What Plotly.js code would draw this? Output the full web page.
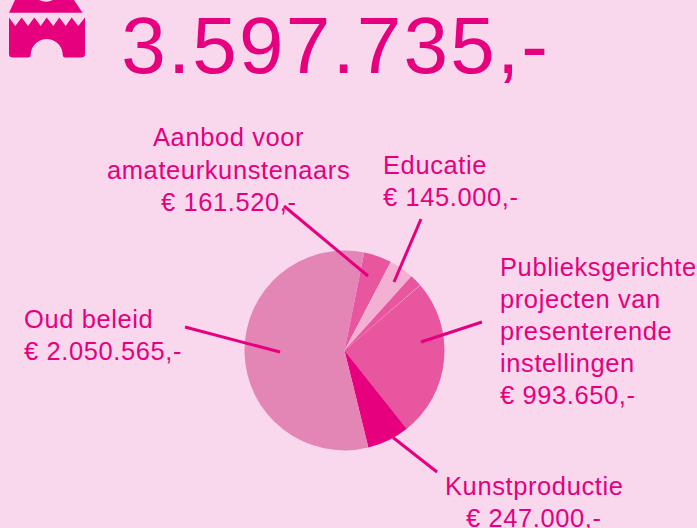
<!DOCTYPE html>
<html><head><meta charset="utf-8">
<script src="https://cdn.plot.ly/plotly-3.0.1.min.js"></script>
<style>html,body{margin:0;padding:0;background:#F9D8ED}#c{width:697px;height:528px}
.annotation-text{letter-spacing:0.6px}
.annotation:last-of-type .annotation-text{letter-spacing:2.2px}</style>
</head><body><div id="c"></div>
<script>
const sliceNames = ['Aanbod voor amateurkunstenaars','Educatie','Publieksgerichte projecten (a)','scheiding','Publieksgerichte projecten (b)','Kunstproductie','Oud beleid'];
const sliceValues = [161520,145000,70000,2500,921150,247000,2050565];
const sliceColors = ['#E8569F','#F3B0D2','#E8569F','#F3A0CC','#E8569F','#E6007E','#E385B5'];
const total = '3.597.735,-';
const W=697,H=528, M='#E6007E', BG='#F9D8ED';
const px=x=>x/W, py=y=>1-y/H;
const P=(x,y)=>px(x).toFixed(5)+','+py(y).toFixed(5);
const labels=[
 {t:['Aanbod voor','amateurkunstenaars','€ 161.520,-'],x:228.5,y:122.5,a:'center'},
 {t:['Educatie','€ 145.000,-'],x:382,y:150,a:'left'},
 {t:['Publieksgerichte','projecten van','presenterende','instellingen','€ 993.650,-'],x:499,y:251.5,a:'left'},
 {t:['Oud beleid','€ 2.050.565,-'],x:23,y:304,a:'left'},
 {t:['Kunstproductie','€ 247.000,-'],x:534,y:470.5,a:'center'}
];
const lineGap=32;
const leaders=[[284,206,368,276],[421,219,394,282],[482,322,421,342],[185,327,280,352],[393,437.5,437,472]];
const F='"Liberation Sans",Arial,sans-serif';
const ann=[];
labels.forEach(l=>l.t.forEach((s,i)=>ann.push({xref:'paper',yref:'paper',x:px(l.x),y:py(l.y+i*lineGap),xanchor:l.a,yanchor:'top',align:l.a,text:s,showarrow:false,borderpad:0,font:{family:F,size:25.5,color:M}})));
ann.push({xref:'paper',yref:'paper',x:px(129),y:py(0),xanchor:'left',yanchor:'top',text:total,showarrow:false,borderpad:0,font:{family:F,size:80,color:M}});
const shapes=leaders.map(s=>({type:'line',xref:'paper',yref:'paper',x0:px(s[0]),y0:py(s[1]),x1:px(s[2]),y1:py(s[3]),line:{color:M,width:3},layer:'above'}));
// castle icon
const teethTop=[[9,17.5],[15.3,26],[21.7,17.5],[28,26],[34.3,17.5],[40.7,26],[46.7,17.5],[53.3,26],[59.3,17.5],[65.7,26],[71.7,17.5],[78.3,26],[85,17.5]];
let body='M'+teethTop.map(p=>P(p[0],p[1])).join(' L');
body+=' L'+P(85,54)+' Q'+P(85,57.5)+' '+P(81,57.5)+' L'+P(65,57.5)+' Q'+P(62.7,57.5)+' '+P(62.7,55);
for(let a=0;a<=180;a+=10){const r=a*Math.PI/180;body+=' L'+P(46.7+16*Math.cos(r),55-16*Math.sin(r));}
body+=' Q'+P(30.7,57.5)+' '+P(28,57.5)+' L'+P(13,57.5)+' Q'+P(9,57.5)+' '+P(9,54)+' Z';
shapes.push({type:'path',xref:'paper',yref:'paper',path:body,fillcolor:M,line:{width:0},layer:'above'});
shapes.push({type:'path',xref:'paper',yref:'paper',path:'M'+P(15,0)+' L'+P(74,0)+' L'+P(82.5,12.7)+' L'+P(9,12.7)+' Z',fillcolor:M,line:{width:0},layer:'above'});
shapes.push({type:'path',xref:'paper',yref:'paper',path:'M'+P(39,0)+' Q'+P(46,3.5)+' '+P(53,0)+' Z',fillcolor:BG,line:{width:0},layer:'above'});
Plotly.newPlot('c',[{type:'pie',labels:sliceNames,values:sliceValues,sort:false,direction:'clockwise',rotation:11.4,
 marker:{colors:sliceColors,line:{width:0}},textinfo:'none',hoverinfo:'skip',
 domain:{x:[px(244.5),px(444.5)],y:[py(450.5),py(250.5)]}}],
 {width:W,height:H,margin:{l:0,r:0,t:0,b:0},paper_bgcolor:BG,plot_bgcolor:BG,showlegend:false,annotations:ann,shapes:shapes},
 {displayModeBar:false,staticPlot:true});
</script></body></html>
